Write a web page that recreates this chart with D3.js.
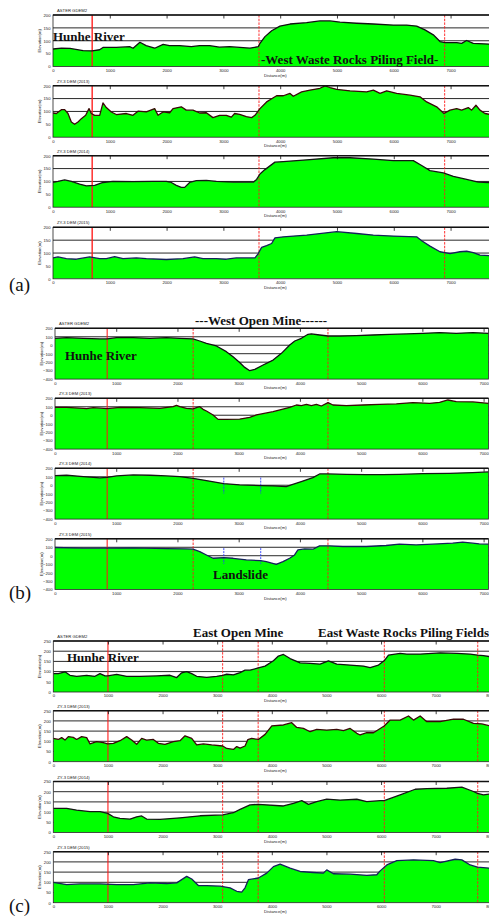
<!DOCTYPE html>
<html>
<head>
<meta charset="utf-8">
<script src="https://cdn.jsdelivr.net/npm/d3@7"></script>
<style>
html, body { margin: 0; padding: 0; background: #fff; }
svg { display: block; }
.tiny { font-family: "Liberation Sans", Arial, sans-serif; font-size: 4.2px; fill: #222; }
.note { font-family: "Liberation Serif", "Times New Roman", serif; font-weight: bold; font-size: 13px; fill: #111; }
.tag { font-family: "Liberation Serif", "Times New Roman", serif; font-size: 19px; fill: #111; }
</style>
</head>
<body>
<svg id="chart" width="489" height="918"></svg>
<script>
// --- data: [distance (m), elevation (m)] ---
const seriesNames = ['ASTER GDEM2', 'ZY-3 DEM (2013)', 'ZY-3 DEM (2014)', 'ZY-3 DEM (2015)'];

const aAster = [[0,68],[150,71],[300,70],[530,62],[690,61],[820,65],[880,74],[1115,74],[1350,77],[1410,71],[1530,94],[1640,81],[1790,71],[1940,86],[2050,81],[2230,81],[2435,77],[2580,81],[2760,81],[2930,75],[3110,77],[3290,74],[3468,71],[3614,77],[3644,90],[3732,116],[3850,139],[3996,157],[4173,165],[4466,170],[4701,177],[4877,177],[5053,172],[5346,168],[5640,165],[5992,161],[6227,161],[6403,157],[6549,142],[6696,123],[6814,97],[6902,93],[7107,93],[7195,90],[7283,101],[7400,90],[7800,86]];
const a2013 = [[0,94],[59,92],[147,107],[205,107],[264,92],[323,59],[381,50],[440,59],[499,72],[575,85],[634,111],[675,92],[734,85],[822,85],[880,133],[939,115],[1027,98],[1115,88],[1291,92],[1408,85],[1496,101],[1643,98],[1790,111],[1849,85],[1937,98],[2054,95],[2113,111],[2259,118],[2347,105],[2465,105],[2582,94],[2700,95],[2817,76],[2934,85],[3052,85],[3140,78],[3198,92],[3286,89],[3404,80],[3498,76],[3556,85],[3644,111],[3761,137],[3879,153],[3937,161],[4055,161],[4173,170],[4231,159],[4378,176],[4525,183],[4701,190],[4789,199],[4877,193],[4995,186],[5229,180],[5522,176],[5640,183],[5758,170],[5875,180],[6051,170],[6286,163],[6462,157],[6579,137],[6755,118],[6884,92],[6990,105],[7107,111],[7195,105],[7312,115],[7371,105],[7447,124],[7518,105],[7606,92],[7800,84]];
const a2014 = [[0,96],[88,100],[205,106],[323,100],[469,90],[587,83],[734,85],[880,96],[1056,100],[1408,99],[1761,100],[1995,100],[2083,96],[2171,85],[2259,77],[2318,77],[2406,96],[2523,103],[2700,104],[2876,100],[3169,97],[3527,97],[3585,108],[3644,129],[3732,146],[3908,175],[4055,177],[4466,184],[4936,192],[5229,192],[5640,187],[5992,181],[6344,181],[6491,162],[6638,142],[6873,133],[7049,120],[7283,108],[7488,97],[7800,95]];
const a2015 = [[0,81],[88,85],[235,78],[411,76],[646,85],[822,78],[939,78],[1086,86],[1232,78],[1467,81],[1643,78],[1995,75],[2289,78],[2494,85],[2641,78],[2876,78],[3052,76],[3228,81],[3556,81],[3614,98],[3673,122],[3761,129],[3849,137],[3908,159],[4055,163],[4466,170],[4995,183],[5346,176],[5640,170],[5992,166],[6403,163],[6491,148],[6638,127],[6814,105],[6990,98],[7166,105],[7283,107],[7400,102],[7518,92],[7800,88]];

const bAster = [[0,82],[190,89],[462,82],[734,74],[853,74],[1005,89],[1277,89],[1549,82],[1821,89],[2038,82],[2255,74],[2364,50],[2473,22],[2636,-9],[2799,-76],[2908,-136],[3016,-205],[3099,-262],[3181,-301],[3263,-285],[3399,-234],[3562,-175],[3698,-96],[3834,3],[3916,50],[4024,82],[4133,129],[4187,133],[4323,121],[4459,109],[4649,109],[4921,113],[5193,121],[5465,129],[5737,133],[6009,141],[6281,149],[6553,141],[6825,149],[7080,141]];
const b2013 = [[0,93],[190,93],[462,82],[516,78],[625,89],[853,78],[1060,93],[1386,89],[1712,82],[1929,101],[1984,117],[2038,101],[2147,82],[2255,74],[2310,89],[2364,101],[2418,70],[2473,50],[2582,3],[2663,-49],[2799,-49],[3016,-45],[3179,-25],[3290,3],[3562,42],[3834,93],[3943,121],[4024,113],[4106,129],[4187,113],[4269,129],[4350,109],[4459,149],[4540,121],[4758,113],[5030,121],[5302,129],[5574,133],[5846,149],[6118,141],[6281,153],[6417,180],[6553,160],[6825,157],[7080,141]];
const b2014 = [[0,114],[190,118],[462,102],[734,86],[853,94],[1005,110],[1277,122],[1549,118],[1821,110],[2038,102],[2255,82],[2473,55],[2755,20],[3016,4],[3359,-4],[3560,-8],[3777,-16],[3859,4],[4022,43],[4212,90],[4321,133],[4457,133],[4755,129],[5082,125],[5353,125],[5625,129],[6005,137],[6440,141],[6821,149],[7080,157]];
const b2015 = [[0,97],[462,89],[853,89],[1277,93],[1821,85],[2147,81],[2255,77],[2364,49],[2473,9],[2582,-30],[2755,-22],[2908,-30],[3125,-50],[3359,-58],[3451,-70],[3614,-102],[3723,-70],[3832,-30],[3913,9],[3967,69],[4076,81],[4212,77],[4321,117],[4484,117],[4701,109],[5082,109],[5408,121],[5625,136],[5897,128],[6168,136],[6495,148],[6658,160],[6821,148],[6929,140],[7080,136]];

const cAster = [[0,90],[92,90],[214,99],[305,82],[427,77],[611,81],[763,77],[855,90],[946,79],[995,79],[1160,86],[1343,77],[1587,77],[1893,79],[2137,82],[2259,71],[2350,94],[2442,100],[2534,90],[2625,77],[2808,72],[2991,77],[3101,82],[3175,87],[3297,84],[3419,95],[3510,107],[3602,107],[3754,118],[3877,127],[4030,153],[4121,176],[4213,184],[4335,164],[4518,143],[4701,140],[4884,137],[5037,153],[5189,137],[5434,132],[5678,127],[5800,120],[5953,132],[6057,153],[6136,181],[6350,189],[6472,186],[6716,186],[7082,192],[7387,189],[7631,186],[7765,181],[7875,178],[8000,173]];
const c2013 = [[0,114],[92,109],[153,118],[214,106],[275,123],[366,119],[427,109],[519,123],[611,118],[672,87],[794,98],[916,93],[995,87],[1099,90],[1221,103],[1343,123],[1435,106],[1526,85],[1618,114],[1709,106],[1831,109],[1923,90],[2045,85],[2198,98],[2320,103],[2411,127],[2534,114],[2625,82],[2747,87],[2900,82],[3101,77],[3175,65],[3297,60],[3358,74],[3419,67],[3510,77],[3560,108],[3632,114],[3754,109],[3877,134],[4000,176],[4213,180],[4365,191],[4457,168],[4579,163],[4701,147],[4823,158],[5006,155],[5189,158],[5312,152],[5434,163],[5556,139],[5617,131],[5739,142],[5861,142],[6057,175],[6167,204],[6350,204],[6502,224],[6594,204],[6716,224],[6838,196],[7082,196],[7326,209],[7509,208],[7692,188],[7845,185],[8000,175]];
const c2014 = [[0,118],[244,118],[427,110],[672,102],[855,102],[995,94],[1099,77],[1221,69],[1404,66],[1526,77],[1618,81],[1709,66],[1954,64],[2320,72],[2686,82],[3101,86],[3297,97],[3419,113],[3602,135],[3754,138],[4213,130],[4396,143],[4549,156],[4671,138],[4823,151],[5006,164],[5250,159],[5556,163],[5739,151],[5983,156],[6057,156],[6350,184],[6625,212],[6838,215],[7204,217],[7479,222],[7692,201],[7765,192],[7875,184],[8000,189]];
const c2015 = [[0,100],[244,89],[488,92],[855,92],[1160,89],[1465,89],[1770,97],[2076,94],[2259,97],[2350,113],[2442,129],[2534,116],[2656,84],[2808,84],[3053,81],[3236,73],[3358,56],[3449,52],[3510,73],[3572,113],[3754,121],[3907,145],[4030,177],[4152,189],[4335,169],[4518,153],[4762,148],[4945,145],[5006,161],[5128,142],[5434,140],[5739,134],[5922,137],[5983,156],[6106,185],[6289,206],[6594,210],[6960,206],[7082,197],[7357,213],[7479,210],[7631,185],[7765,174],[8000,169]];

// ticks
const aXTicks = [0,1000,2000,3000,4000,5000,6000,7000];
const bXTicks = [0,1000,2000,3000,4000,5000,6000,7000];
const cXTicks = [0,1000,2000,3000,4000,5000,6000,7000,8000];
const aYTicks = [0,50,100,150,200];
const bYTicks = [-400,-300,-200,-100,0,100,200];
const cYTicks = [0,50,100,150,200,250];

// marker lines (distance, m)
const aSolid = [690], aDashed = [3627, 6896];
const bSolid = [853], bDashed = [2256, 4458], bBlue = [2757, 3360], bBlueSpan = [90, -98];
const cSolid = [1000], cDashed = [3100, 3750, 6060, 7770];

const profileColors = ['#111', '#3a0808', '#151515', '#14205a'];

const panels = [
    { id: 'a', rows: [aAster, a2013, a2014, a2015], xDomain: [0, 7800], xRange: [53, 496],
      yDomain: [0, 200], yTicks: aYTicks, xTicks: aXTicks, tops: [15, 85.7, 155.7, 227.3], h: 51.5,
      solid: aSolid, dashed: aDashed, solidOpacity: 0.9 },
    { id: 'b', rows: [bAster, b2013, b2014, b2015], xDomain: [0, 7080], xRange: [55, 488.5],
      yDomain: [-400, 200], yTicks: bYTicks, xTicks: bXTicks, tops: [328.3, 398.3, 468.3, 538.8], h: 50.8,
      solid: bSolid, dashed: bDashed, blue: bBlue, blueRows: [2, 3], solidOpacity: 0.7 },
    { id: 'c', rows: [cAster, c2013, c2014, c2015], xDomain: [0, 8000], xRange: [53.3, 490.3],
      yDomain: [0, 250], yTicks: cYTicks, xTicks: cXTicks, tops: [641, 710.7, 781.5, 851.7], h: 51,
      solid: cSolid, dashed: cDashed, solidOpacity: 0.72 }
];

const svg = d3.select('#chart');
const defs = svg.append('defs');

function drawPanel(p) {
    const [L, R] = p.xRange;
    const x = d3.scaleLinear().domain(p.xDomain).range(p.xRange);

    p.rows.forEach((data, i) => {
        const top = p.tops[i];
        const bottom = top + p.h;
        const y = d3.scaleLinear().domain(p.yDomain).range([bottom, top]);
        const g = svg.append('g');
        const clipId = `clip-${p.id}-${i}`;
        defs.append('clipPath').attr('id', clipId)
            .append('rect').attr('x', L).attr('y', top).attr('width', R - L).attr('height', p.h);
        const inner = g.append('g').attr('clip-path', `url(#${clipId})`);

        // horizontal grid behind the terrain
        inner.selectAll('.grid')
            .data(p.yTicks.slice(1, -1))
            .join('line')
            .attr('x1', L).attr('x2', R)
            .attr('y1', d => y(d)).attr('y2', d => y(d))
            .attr('stroke', '#111').attr('stroke-width', 0.9);

        const area = d3.area().x(d => x(d[0])).y0(bottom).y1(d => y(d[1]));
        const line = d3.line().x(d => x(d[0])).y(d => y(d[1]));

        inner.append('path').datum(data).attr('d', area).attr('fill', '#00ff00');

        // red marker lines
        inner.selectAll('.solid').data(p.solid).join('line')
            .attr('x1', d => x(d)).attr('x2', d => x(d)).attr('y1', top).attr('y2', bottom)
            .attr('stroke', '#ff1a1a').attr('stroke-width', 1.5).attr('opacity', p.solidOpacity);
        inner.selectAll('.dashed').data(p.dashed).join('line')
            .attr('x1', d => x(d)).attr('x2', d => x(d)).attr('y1', top).attr('y2', bottom)
            .attr('stroke', '#ff1a1a').attr('stroke-width', 0.9).attr('stroke-dasharray', '2.5,1.2');
        if (p.blue && p.blueRows.includes(i)) {
            inner.selectAll('.blue').data(p.blue).join('line')
                .attr('x1', d => x(d)).attr('x2', d => x(d))
                .attr('y1', y(bBlueSpan[0])).attr('y2', y(bBlueSpan[1]))
                .attr('stroke', '#2a3cff').attr('stroke-width', 0.9).attr('stroke-dasharray', '2,1');
        }

        inner.append('path').datum(data).attr('d', line)
            .attr('fill', 'none').attr('stroke', profileColors[i]).attr('stroke-width', 1.3)
            .attr('stroke-linejoin', 'round');

        // frame
        g.append('rect').attr('x', L).attr('y', top).attr('width', R - L).attr('height', p.h)
            .attr('fill', 'none').attr('stroke', '#222').attr('stroke-width', 0.8);
        g.append('line').attr('x1', L).attr('x2', R).attr('y1', top).attr('y2', top)
            .attr('stroke', '#111').attr('stroke-width', 1.6);

        // inward ticks along the top
        g.append('g').attr('transform', `translate(0,${top})`)
            .call(d3.axisBottom(x).tickValues(p.xTicks.slice(1)).tickSize(3.5).tickFormat(''))
            .call(a => a.select('.domain').remove())
            .call(a => a.selectAll('line').attr('stroke', '#111').attr('stroke-width', 0.8));

        // x tick labels
        g.append('g').attr('transform', `translate(0,${bottom})`)
            .call(d3.axisBottom(x).tickValues(p.xTicks).tickSize(0).tickPadding(2.5).tickFormat(d3.format('d')))
            .call(a => a.select('.domain').remove())
            .call(a => a.selectAll('text').attr('class', 'tiny').attr('font-size', null));

        // y tick labels
        g.append('g').attr('transform', `translate(${L},0)`)
            .call(d3.axisLeft(y).tickValues(p.yTicks).tickSize(0).tickPadding(2.5))
            .call(a => a.select('.domain').remove())
            .call(a => a.selectAll('text').attr('class', 'tiny').attr('font-size', null));

        g.append('text').attr('class', 'tiny')
            .attr('transform', `translate(${L - 12},${(top + bottom) / 2}) rotate(-90)`)
            .attr('text-anchor', 'middle').text('Elevation(m)');
        g.append('text').attr('class', 'tiny')
            .attr('x', L + 4).attr('y', top - 3).text(seriesNames[i]);
        g.append('text').attr('class', 'tiny')
            .attr('x', 264).attr('y', bottom + 10).text('Distance(m)');
    });
}

panels.forEach(drawPanel);

// annotations
const notes = [
    { x: 53, y: 41, t: 'Hunhe River' },
    { x: 261, y: 63.5, t: '-West Waste Rocks Piling Field-' },
    { x: 195, y: 325, t: '---West Open Mine------' },
    { x: 65, y: 360, t: 'Hunhe River' },
    { x: 213, y: 579, t: 'Landslide' },
    { x: 193, y: 637, t: 'East Open Mine' },
    { x: 318, y: 637, t: 'East Waste Rocks Piling Fields' },
    { x: 67, y: 661.5, t: 'Hunhe River' }
];
svg.selectAll('.note').data(notes).join('text')
    .attr('class', 'note').attr('x', d => d.x).attr('y', d => d.y).text(d => d.t);

const tags = [{ t: '(a)', y: 291 }, { t: '(b)', y: 599 }, { t: '(c)', y: 912 }];
svg.selectAll('.tag').data(tags).join('text')
    .attr('class', 'tag').attr('x', 9).attr('y', d => d.y).text(d => d.t);
</script>
</body>
</html>
